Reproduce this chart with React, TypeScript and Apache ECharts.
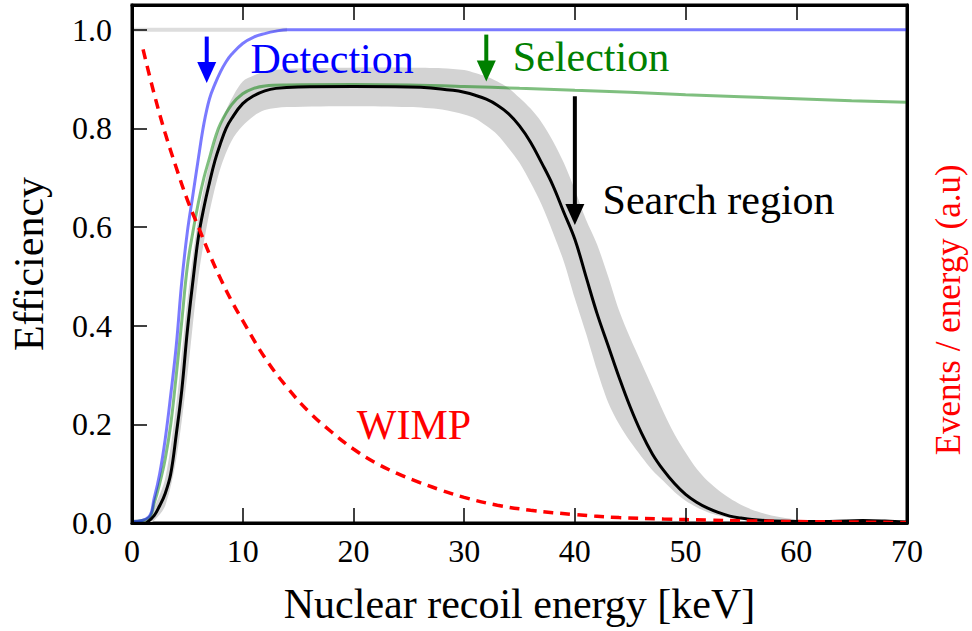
import React, { useEffect, useRef } from "react";
import * as echarts from "echarts";

const FONT = '"Liberation Serif", "Times New Roman", serif';

// Efficiency curves: [energy keV, efficiency]
const detection: number[][] = [
  [0, 0.003], [1.5, 0.012], [2, 0.05], [2.5, 0.1], [3, 0.17], [3.5, 0.26], [4, 0.36],
  [4.5, 0.49], [5, 0.59], [5.5, 0.665], [6, 0.74], [6.5, 0.81], [7, 0.86], [7.5, 0.89],
  [8, 0.915], [8.5, 0.935], [9, 0.95], [10, 0.972], [11, 0.985], [12, 0.992], [13, 0.997],
  [14, 1.0], [70, 1.0],
];
const detectionRef: number[][] = [[0, 1.0], [14, 1.0]];

const selection: number[][] = [
  [0, 0.003], [1.5, 0.01], [2, 0.04], [2.5, 0.08], [3, 0.13], [3.5, 0.2], [4, 0.3],
  [4.5, 0.41], [5, 0.52], [5.5, 0.59], [6, 0.65], [6.5, 0.7], [7, 0.74], [7.5, 0.78],
  [8, 0.81], [9, 0.848], [10, 0.87], [11, 0.881], [12, 0.886], [14, 0.888], [20, 0.889],
  [25, 0.888], [30, 0.885], [35, 0.881], [40, 0.877], [45, 0.873], [50, 0.868],
  [55, 0.864], [60, 0.86], [65, 0.856], [70, 0.853],
];

const searchRegion: number[][] = [
  [1.3, 0], [2, 0.015], [2.5, 0.035], [3, 0.06], [3.5, 0.1], [4, 0.18], [4.5, 0.27],
  [5, 0.39], [5.5, 0.49], [6, 0.58], [6.5, 0.64], [7, 0.69], [7.5, 0.735], [8, 0.77],
  [8.5, 0.8], [9, 0.82], [10, 0.85], [11, 0.866], [12, 0.876], [13, 0.881], [15, 0.884],
  [20, 0.885], [25, 0.884], [27, 0.882], [29, 0.877], [30, 0.873], [31, 0.867],
  [32, 0.859], [33, 0.847], [34, 0.83], [35, 0.805], [36, 0.772], [37, 0.73], [38, 0.685],
  [39, 0.63], [40, 0.575], [41, 0.5], [42, 0.425], [43, 0.36], [44, 0.295], [45, 0.235],
  [46, 0.183], [47, 0.14], [48, 0.107], [49, 0.08], [50, 0.058], [51, 0.042], [52, 0.03],
  [53, 0.021], [54, 0.014], [55, 0.01], [56, 0.007], [58, 0.004], [60, 0.003], [63, 0.003],
  [66, 0.005], [68, 0.004], [70, 0.002],
];

// Uncertainty band around the search-region efficiency
const bandX: number[] = [
  1.5, 2, 3, 4, 5, 6, 7, 8, 9, 10, 11, 12, 14, 20, 25, 28, 30, 31, 32, 33, 34, 35, 36, 37,
  38, 39, 40, 41, 42, 43, 44, 45, 46, 47, 48, 49, 50, 51, 52, 53, 54, 55, 56, 57, 58, 60, 62, 70,
];
const bandLower: number[] = [
  0, 0.005, 0.035, 0.13, 0.3, 0.5, 0.63, 0.72, 0.775, 0.805, 0.825, 0.837, 0.843, 0.845,
  0.843, 0.838, 0.828, 0.82, 0.805, 0.787, 0.76, 0.73, 0.69, 0.645, 0.59, 0.53, 0.455,
  0.385, 0.31, 0.245, 0.2, 0.165, 0.135, 0.107, 0.085, 0.063, 0.045, 0.032, 0.022, 0.015,
  0.01, 0.007, 0.005, 0.004, 0.003, 0.002, 0.001, 0,
];
const bandUpper: number[] = [
  0.005, 0.03, 0.09, 0.24, 0.45, 0.62, 0.73, 0.81, 0.86, 0.895, 0.907, 0.915, 0.921, 0.923,
  0.923, 0.922, 0.918, 0.912, 0.905, 0.895, 0.882, 0.862, 0.84, 0.812, 0.775, 0.73, 0.675,
  0.615, 0.565, 0.5, 0.43, 0.375, 0.325, 0.275, 0.225, 0.18, 0.143, 0.11, 0.085, 0.066,
  0.05, 0.037, 0.027, 0.02, 0.014, 0.007, 0.003, 0.001,
];

// WIMP recoil spectrum (arbitrary units, right axis)
const wimp: number[][] = [
  [1, 0.96], [2, 0.87], [3, 0.79], [4, 0.72], [5, 0.655], [6, 0.6], [7, 0.545], [8, 0.495],
  [9, 0.45], [10, 0.41], [12, 0.335], [14, 0.275], [16, 0.225], [18, 0.185], [20, 0.15],
  [22, 0.122], [24, 0.1], [26, 0.082], [28, 0.066], [30, 0.052], [33, 0.036], [36, 0.026],
  [40, 0.017], [44, 0.011], [48, 0.008], [52, 0.006], [56, 0.004], [60, 0.003], [65, 0.002],
  [70, 0.001],
];

// Annotations (data coordinates)
const arrowLabels = ["Detection", "Selection", "Search region"];
const arrowColors = ["#0000ff", "#008000", "#000000"];
const arrowX = [6.75, 32.0, 40.0];
const arrowTop = [0.986, 0.99, 0.865];
const arrowTip = [0.892, 0.895, 0.604];
const labelPos: number[][] = [[10.7, 0.941], [34.4, 0.945], [42.5, 0.655]];
const wimpLabel = "WIMP";
const wimpLabelPos = [20.3, 0.198];
const rightAxisTitle = "Events / energy (a.u)";
const rightAxisTitleY = 0.432;

export default function App() {
  const ref = useRef<HTMLDivElement>(null);
  useEffect(() => {
    const el = ref.current!;
    const chart = echarts.init(el, null, { renderer: "svg" });
    const lineBase: any = {
      type: "line",
      showSymbol: false,
      symbol: "none",
      smooth: 0.4,
      silent: true,
    };
    const tickStyle = { color: "#000", width: 1.5 };
    const option: any = {
      animation: false,
      backgroundColor: "#fff",
      grid: {
        left: 132, right: 65, top: 5, bottom: 108,
        outerBoundsMode: "none", containLabel: false,
        show: true, borderColor: "#000", borderWidth: 3, backgroundColor: "transparent",
      },
      xAxis: [
        {
          type: "value", min: 0, max: 70, interval: 10, position: "bottom", z: 10,
          name: "Nuclear recoil energy [keV]", nameLocation: "middle", nameGap: 60,
          nameMoveOverlap: false,
          nameTextStyle: { fontFamily: FONT, fontSize: 42, color: "#000" },
          axisLine: { show: true, onZero: false, lineStyle: { color: "#000", width: 3 } },
          axisTick: { show: true, inside: true, length: 15, lineStyle: tickStyle },
          axisLabel: { margin: 12, fontFamily: FONT, fontSize: 32, color: "#000" },
          splitLine: { show: false },
        },
        {
          type: "value", min: 0, max: 70, interval: 10, position: "top", z: 10,
          axisLine: { show: true, onZero: false, lineStyle: { color: "#000", width: 3 } },
          axisTick: { show: true, inside: true, length: 15, lineStyle: tickStyle },
          axisLabel: { show: false },
          splitLine: { show: false },
        },
      ],
      yAxis: [
        {
          type: "value", min: 0, max: 1.05, interval: 0.2, position: "left", z: 10,
          name: "Efficiency", nameLocation: "middle", nameGap: 82, nameRotate: 90,
          nameMoveOverlap: false,
          nameTextStyle: { fontFamily: FONT, fontSize: 42, color: "#000" },
          axisLine: { show: true, onZero: false, lineStyle: { color: "#000", width: 3 } },
          axisTick: { show: true, inside: true, length: 15, lineStyle: tickStyle },
          axisLabel: {
            margin: 20, fontFamily: FONT, fontSize: 32, color: "#000",
            formatter: (v: number) => (v > 1.01 ? "" : v.toFixed(1)),
          },
          splitLine: { show: false },
        },
        {
          type: "value", min: 0, max: 1.05, interval: 0.2, position: "right", z: 10,
          axisLine: { show: true, onZero: false, lineStyle: { color: "#000", width: 3 } },
          axisTick: { show: false },
          axisLabel: { show: false },
          splitLine: { show: false },
        },
      ],
      series: [
        {
          type: "custom", name: "band", z: 1, silent: true, clip: true,
          data: bandX.map((x, i) => [x, bandLower[i], bandUpper[i]]),
          encode: { x: 0, y: [1, 2] },
          renderItem: (params: any, api: any) => {
            if (params.dataIndex !== 0) return null;
            const up = bandX.map((x, i) => api.coord([x, bandUpper[i]]));
            const lo = bandX.map((x, i) => api.coord([x, bandLower[i]])).reverse();
            return {
              type: "polygon",
              shape: { points: up.concat(lo), smooth: 0.3 },
              style: { fill: "#d3d3d3", stroke: "none" },
            };
          },
        },
        {
          ...lineBase, name: "detRef", z: 2, data: detectionRef, smooth: false,
          lineStyle: { color: "#dddddd", width: 4 },
        },
        {
          ...lineBase, name: "Selection", z: 3, data: selection,
          lineStyle: { color: "rgba(0,128,0,0.5)", width: 3 },
        },
        {
          ...lineBase, name: "Detection", z: 4, data: detection,
          lineStyle: { color: "rgba(0,0,255,0.52)", width: 3 },
        },
        {
          ...lineBase, name: "Search region", z: 5, data: searchRegion,
          lineStyle: { color: "#000", width: 3 },
        },
        {
          ...lineBase, name: "WIMP", z: 6, data: wimp, yAxisIndex: 1,
          lineStyle: { color: "#ff0000", width: 3.5, type: [10, 7] },
        },
      ],
    };
    chart.setOption(option);

    const px = (x: number, y: number) =>
      chart.convertToPixel({ xAxisIndex: 0, yAxisIndex: 0 }, [x, y]) as number[];
    const graphics: any[] = [];
    arrowX.forEach((ax, i) => {
      const top = px(ax, arrowTop[i]);
      const tip = px(ax, arrowTip[i]);
      const headLen = 21;
      const hw = 9.5;
      graphics.push({
        type: "line", silent: true, z: 100,
        shape: { x1: top[0], y1: top[1], x2: tip[0], y2: tip[1] - headLen + 2 },
        style: { stroke: arrowColors[i], lineWidth: 4 },
      });
      graphics.push({
        type: "polygon", silent: true, z: 100,
        shape: { points: [[tip[0] - hw, tip[1] - headLen], [tip[0] + hw, tip[1] - headLen], [tip[0], tip[1]]] },
        style: { fill: arrowColors[i] },
      });
      const lp = px(labelPos[i][0], labelPos[i][1]);
      graphics.push({
        type: "text", silent: true, z: 100, x: lp[0], y: lp[1],
        style: {
          text: arrowLabels[i], fill: arrowColors[i],
          font: `42px ${FONT}`, fontSize: 42, fontFamily: FONT,
          align: "left", verticalAlign: "middle", textAlign: "left", textVerticalAlign: "middle",
        },
      });
    });
    const wp = px(wimpLabelPos[0], wimpLabelPos[1]);
    graphics.push({
      type: "text", silent: true, z: 100, x: wp[0], y: wp[1],
      style: {
        text: wimpLabel, fill: "#ff0000", font: `42px ${FONT}`, fontSize: 42, fontFamily: FONT,
        align: "left", verticalAlign: "middle", textAlign: "left", textVerticalAlign: "middle",
      },
    });
    const rp = px(70, rightAxisTitleY);
    graphics.push({
      type: "text", silent: true, z: 100, x: rp[0] + 41, y: rp[1], rotation: Math.PI / 2,
      style: {
        text: rightAxisTitle, fill: "#ff0000", font: `35px ${FONT}`, fontSize: 35, fontFamily: FONT,
        align: "center", verticalAlign: "middle", textAlign: "center", textVerticalAlign: "middle",
      },
    });
    chart.setOption({ graphic: graphics });

    return () => chart.dispose();
  }, []);
  return (
    <div
      ref={ref}
      style={{ position: "fixed", left: 0, top: 0, width: 972, height: 631, background: "#fff" }}
    />
  );
}
